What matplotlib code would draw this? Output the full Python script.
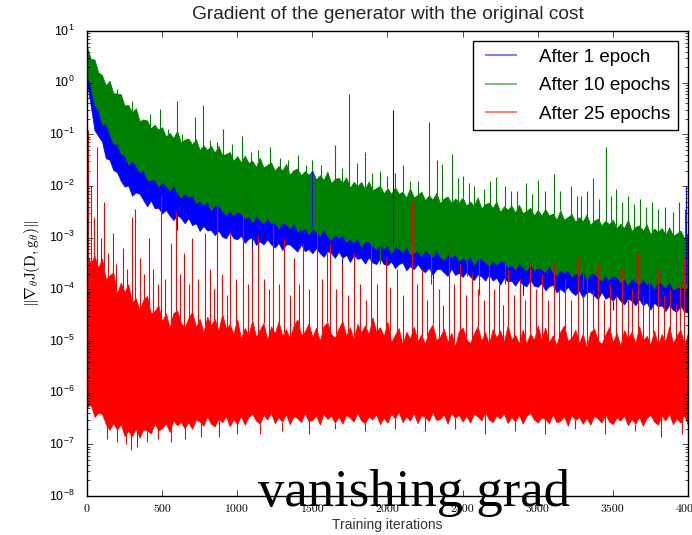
import matplotlib
matplotlib.use("Agg")
import matplotlib.pyplot as plt
import numpy as np
from matplotlib.lines import Line2D

# iteration grid for the band envelopes (every 25 iterations, 0..4000)
ITERS = list(range(0, 4001, 25))

# all values are log10 of the gradient norm
blue_hi = [0.25, -0.05, -0.3, -0.48, -0.65, -0.78, -0.9, -1.04, -1.17, -1.26, -1.34,
           -1.42, -1.48, -1.55, -1.62, -1.68, -1.74, -1.78, -1.82, -1.86, -1.9,
           -1.93, -1.96, -1.9, -2.02, -2.06, -2.09, -2.12, -2.16, -2.19, -2.22,
           -2.25, -2.28, -2.3, -2.32, -2.35, -2.38, -2.41, -2.44, -2.46, -2.47,
           -2.49, -2.5, -2.52, -2.54, -2.55, -2.57, -2.59, -2.6, -2.62, -2.64,
           -2.65, -2.67, -2.68, -2.7, -2.65, -2.73, -2.75, -2.77, -2.78, -2.8,
           -2.81, -2.83, -2.75, -2.86, -2.88, -2.89, -2.91, -2.93, -2.94, -2.96,
           -2.98, -2.99, -3.01, -3.02, -3.04, -3.06, -3.07, -3.09, -3.1, -3.12,
           -3.13, -3.14, -3.15, -3.16, -3.1, -3.18, -3.19, -3.2, -3.21, -3.22,
           -3.23, -3.24, -3.18, -3.26, -3.27, -3.28, -3.29, -3.3, -3.31, -3.32,
           -3.33, -3.34, -3.35, -3.36, -3.37, -3.38, -3.39, -3.4, -3.41, -3.42,
           -3.43, -3.44, -3.45, -3.46, -3.47, -3.48, -3.49, -3.5, -3.51, -3.52,
           -3.53, -3.54, -3.48, -3.56, -3.57, -3.58, -3.59, -3.6, -3.61, -3.62,
           -3.63, -3.64, -3.65, -3.65, -3.66, -3.67, -3.68, -3.69, -3.7, -3.71,
           -3.72, -3.73, -3.74, -3.75, -3.75, -3.76, -3.77, -3.78, -3.79, -3.8,
           -3.81, -3.82, -3.83, -3.84, -3.85, -3.85, -3.86, -3.87, -3.88, -3.9]
blue_lo = [0.0, -0.45, -0.92, -1.03, -1.14, -1.46, -1.49, -1.69, -1.73, -1.9, -2.01,
           -1.99, -2.19, -2.12, -2.15, -2.27, -2.39, -2.28, -2.43, -2.42, -2.53,
           -2.46, -2.57, -2.66, -2.56, -2.62, -2.72, -2.62, -2.76, -2.72, -2.87,
           -2.77, -2.86, -2.85, -2.95, -2.86, -2.98, -3.01, -2.89, -3.01, -3.03,
           -2.96, -3.1, -3.02, -2.99, -3.14, -3.07, -3.13, -3.03, -3.13, -3.19,
           -3.1, -3.24, -3.13, -3.13, -3.2, -3.27, -3.13, -3.26, -3.22, -3.3,
           -3.2, -3.3, -3.37, -3.26, -3.3, -3.39, -3.27, -3.39, -3.33, -3.47,
           -3.34, -3.41, -3.39, -3.5, -3.38, -3.48, -3.51, -3.4, -3.51, -3.53,
           -3.46, -3.59, -3.51, -3.48, -3.63, -3.55, -3.61, -3.51, -3.61, -3.67,
           -3.58, -3.72, -3.61, -3.6, -3.67, -3.74, -3.6, -3.72, -3.68, -3.76,
           -3.66, -3.75, -3.82, -3.71, -3.75, -3.83, -3.71, -3.83, -3.77, -3.91,
           -3.78, -3.85, -3.83, -3.93, -3.81, -3.91, -3.94, -3.82, -3.93, -3.95,
           -3.88, -4.02, -3.94, -3.91, -4.06, -3.99, -4.05, -3.95, -4.05, -4.11,
           -4.02, -4.16, -4.05, -4.05, -4.12, -4.19, -4.05, -4.18, -4.14, -4.22,
           -4.12, -4.22, -4.29, -4.18, -4.22, -4.31, -4.19, -4.31, -4.25, -4.39,
           -4.26, -4.33, -4.31, -4.42, -4.3, -4.4, -4.43, -4.32, -4.43, -4.45]
blue_spike_it = [1500, 2040, 3985]
blue_spike_top = [-1.64, -0.53, -2.0]
blue_dip_it = [600, 1100, 1700, 2300, 2900, 3500, 3950]
blue_dip_bot = [-2.85, -3.25, -3.6, -3.8, -4.1, -4.4, -4.6]

green_hi = [0.7, 0.46, 0.45, 0.2, 0.15, -0.05, 0.04, -0.2, -0.21, -0.22, -0.44,
            -0.43, -0.58, -0.49, -0.74, -0.71, -0.73, -0.88, -0.81, -0.91, -0.86,
            -1.04, -0.97, -1.07, -0.93, -1.16, -1.1, -1.08, -1.19, -1.09, -1.3,
            -1.21, -1.3, -1.22, -1.35, -1.22, -1.4, -1.38, -1.34, -1.51, -1.42,
            -1.54, -1.41, -1.55, -1.51, -1.63, -1.45, -1.64, -1.59, -1.54, -1.7,
            -1.61, -1.7, -1.57, -1.78, -1.69, -1.66, -1.79, -1.71, -1.78, -1.7,
            -1.87, -1.79, -1.88, -1.72, -1.94, -1.86, -1.84, -1.94, -1.83, -2.03,
            -1.92, -2.0, -1.92, -2.06, -1.91, -2.08, -2.04, -1.99, -2.14, -2.04,
            -2.15, -2.02, -2.15, -2.11, -2.22, -2.04, -2.22, -2.17, -2.11, -2.27,
            -2.18, -2.26, -2.13, -2.33, -2.24, -2.2, -2.33, -2.24, -2.31, -2.22,
            -2.38, -2.3, -2.38, -2.22, -2.43, -2.35, -2.32, -2.42, -2.3, -2.5,
            -2.39, -2.46, -2.38, -2.51, -2.36, -2.52, -2.48, -2.42, -2.57, -2.46,
            -2.57, -2.44, -2.57, -2.53, -2.65, -2.47, -2.65, -2.6, -2.54, -2.69,
            -2.6, -2.68, -2.55, -2.75, -2.67, -2.63, -2.76, -2.67, -2.74, -2.65,
            -2.81, -2.73, -2.81, -2.65, -2.87, -2.79, -2.76, -2.86, -2.74, -2.93,
            -2.82, -2.89, -2.81, -2.94, -2.8, -2.96, -2.92, -2.86, -3.01, -2.9]
green_lo = [0.15, -0.08, -0.43, -0.53, -0.8, -0.8, -0.99, -1.18, -1.18, -1.37, -1.41,
            -1.59, -1.51, -1.61, -1.74, -1.68, -1.88, -1.88, -1.87, -2.01, -1.92,
            -2.0, -2.09, -1.98, -2.13, -2.22, -2.13, -2.21, -2.18, -2.33, -2.28,
            -2.37, -2.29, -2.47, -2.37, -2.38, -2.48, -2.56, -2.48, -2.57, -2.49,
            -2.53, -2.63, -2.58, -2.7, -2.57, -2.66, -2.72, -2.61, -2.73, -2.7,
            -2.82, -2.7, -2.74, -2.82, -2.71, -2.87, -2.85, -2.81, -2.93, -2.82,
            -2.88, -2.96, -2.83, -2.97, -3.04, -2.93, -3.0, -2.95, -3.08, -3.02,
            -3.09, -3.0, -3.18, -3.07, -3.07, -3.16, -3.22, -3.13, -3.21, -3.14,
            -3.3, -3.17, -3.21, -3.28, -3.17, -3.32, -3.29, -3.25, -3.36, -3.24,
            -3.3, -3.37, -3.24, -3.37, -3.43, -3.32, -3.38, -3.32, -3.45, -3.38,
            -3.45, -3.35, -3.52, -3.41, -3.4, -3.48, -3.54, -3.44, -3.52, -3.44,
            -3.47, -3.57, -3.51, -3.62, -3.49, -3.57, -3.63, -3.51, -3.62, -3.59,
            -3.6, -3.67, -3.54, -3.67, -3.73, -3.62, -3.68, -3.62, -3.75, -3.68,
            -3.74, -3.64, -3.81, -3.7, -3.69, -3.77, -3.83, -3.73, -3.81, -3.73,
            -3.76, -3.86, -3.8, -3.91, -3.78, -3.85, -3.91, -3.79, -3.9, -3.87,
            -3.98, -3.85, -3.89, -3.96, -3.85, -4.0, -3.97, -3.93, -4.04, -3.92]
green_spike_it = [200, 300, 420, 487, 540, 600, 633, 720, 773, 820, 867, 907, 967,
                  1033, 1090, 1140, 1220, 1287, 1340, 1407, 1460, 1500, 1560, 1653,
                  1700, 1747, 1800, 1853, 1900, 1953, 2000, 2050, 2100, 2150, 2200,
                  2273, 2330, 2360, 2427, 2470, 2500, 2540, 2573, 2640, 2680, 2720,
                  2780, 2820, 2860, 2920, 2960, 3000, 3050, 3107, 3150, 3220, 3260,
                  3290, 3330, 3367, 3410, 3453, 3490, 3520, 3560, 3600, 3640, 3680,
                  3720, 3760, 3800, 3850, 3900, 3940, 3980]
green_spike_top = [-0.12, -0.35, -0.6, -0.51, -0.9, -0.36, -1.0, -0.67, -0.43, -1.1,
                   -1.15, -0.9, -1.19, -1.03, -1.35, -1.3, -1.25, -1.45, -1.5, -1.4,
                   -1.6, -1.5, -1.6, -1.2, -1.65, -0.22, -1.55, -1.34, -1.75, -1.7,
                   -1.8, -1.75, -1.6, -1.9, -1.9, -0.76, -1.5, -1.58, -1.38, -1.85,
                   -1.8, -1.95, -2.0, -2.05, -1.9, -1.83, -2.0, -2.1, -2.1, -1.95,
                   -2.15, -1.89, -2.1, -1.77, -2.1, -2.0, -2.2, -2.2, -2.1, -1.85,
                   -2.25, -1.25, -2.2, -2.05, -2.3, -2.2, -2.35, -2.25, -2.4, -2.3,
                   -2.45, -2.4, -2.5, -2.3, -2.45]
green_dip_it = [1950, 2287, 2530, 2607, 2780, 3300]
green_dip_bot = [-3.5, -3.9, -3.75, -4.1, -3.9, -4.0]

red_hi = [-3.3, -3.5, -3.35, -3.58, -3.4, -3.8, -3.73, -3.67, -4.08, -3.87, -4.05,
          -3.9, -4.25, -4.17, -4.41, -4.2, -4.13, -4.46, -4.42, -4.31, -4.62,
          -4.46, -4.74, -4.46, -4.41, -4.64, -4.74, -4.56, -4.43, -4.73, -4.57,
          -4.83, -4.53, -4.69, -4.57, -4.8, -4.47, -4.76, -4.68, -4.85, -4.58,
          -4.95, -4.75, -4.88, -4.6, -4.92, -4.78, -4.65, -4.98, -4.72, -4.85,
          -4.62, -4.9, -4.77, -4.96, -4.7, -4.58, -4.88, -4.82, -4.66, -4.92,
          -4.74, -5.0, -4.71, -4.64, -4.86, -4.94, -4.76, -4.61, -4.9, -4.73,
          -4.97, -4.67, -4.83, -4.7, -4.87, -4.54, -4.82, -4.73, -4.9, -4.63,
          -5.02, -4.88, -4.75, -5.08, -4.82, -4.95, -4.72, -5.0, -4.87, -5.06,
          -4.8, -4.68, -4.98, -4.92, -4.76, -5.02, -4.84, -5.1, -4.81, -4.74,
          -4.96, -5.04, -4.86, -4.71, -5.0, -4.83, -5.07, -4.77, -4.93, -4.8,
          -5.02, -4.69, -4.97, -4.88, -5.05, -4.78, -5.05, -4.85, -4.98, -4.7,
          -4.97, -4.74, -5.02, -4.89, -5.08, -4.82, -4.7, -5.0, -4.94, -4.78,
          -5.04, -4.86, -5.12, -4.83, -4.76, -4.98, -5.06, -4.88, -4.73, -5.02,
          -4.85, -5.09, -4.79, -4.95, -4.82, -5.04, -4.71, -4.99, -4.9, -5.07,
          -4.8, -5.07, -4.87, -5.0, -4.72, -5.04, -4.9, -4.77, -5.1, -4.84]
red_lo = [-6.28, -6.23, -6.47, -6.39, -6.41, -6.6, -6.72, -6.59, -6.72, -6.61, -6.84,
          -6.74, -6.84, -6.69, -6.87, -6.71, -6.73, -6.79, -6.6, -6.73, -6.69,
          -6.59, -6.76, -6.54, -6.63, -6.57, -6.69, -6.57, -6.7, -6.52, -6.56,
          -6.64, -6.46, -6.6, -6.65, -6.51, -6.57, -6.46, -6.65, -6.52, -6.61,
          -6.45, -6.62, -6.47, -6.41, -6.54, -6.6, -6.43, -6.52, -6.39, -6.59,
          -6.48, -6.56, -6.42, -6.61, -6.46, -6.49, -6.57, -6.4, -6.55, -6.53,
          -6.44, -6.62, -6.41, -6.51, -6.45, -6.58, -6.47, -6.6, -6.43, -6.48,
          -6.56, -6.39, -6.54, -6.59, -6.46, -6.52, -6.42, -6.61, -6.49, -6.58,
          -6.41, -6.5, -6.37, -6.57, -6.46, -6.54, -6.4, -6.59, -6.44, -6.47,
          -6.55, -6.38, -6.53, -6.51, -6.42, -6.6, -6.39, -6.49, -6.43, -6.56,
          -6.45, -6.58, -6.41, -6.46, -6.54, -6.37, -6.52, -6.57, -6.44, -6.5,
          -6.4, -6.59, -6.47, -6.56, -6.43, -6.6, -6.45, -6.39, -6.52, -6.58,
          -6.48, -6.51, -6.59, -6.42, -6.57, -6.55, -6.46, -6.64, -6.43, -6.53,
          -6.47, -6.6, -6.49, -6.62, -6.45, -6.5, -6.58, -6.41, -6.56, -6.61,
          -6.48, -6.54, -6.44, -6.63, -6.51, -6.6, -6.47, -6.64, -6.49, -6.43,
          -6.56, -6.62, -6.45, -6.54, -6.41, -6.61, -6.5, -6.58, -6.44, -6.63]
red_spike_it = [10, 30, 45, 67, 90, 113, 140, 170, 195, 240, 265, 300, 320, 350,
                380, 413, 440, 470, 493, 520, 560, 593, 620, 647, 680, 700, 740,
                787, 820, 845, 867, 900, 930, 953, 990, 1040, 1070, 1100, 1140,
                1175, 1210, 1240, 1280, 1313, 1350, 1380, 1410, 1440, 1480, 1533,
                1565, 1600, 1620, 1660, 1700, 1740, 1780, 1820, 1855, 1887, 1930,
                1987, 2020, 2060, 2100, 2160, 2195, 2230, 2265, 2300, 2340, 2370,
                2407, 2440, 2480, 2520, 2560, 2600, 2640, 2673, 2710, 2740, 2770,
                2800, 2840, 2880, 2915, 2950, 2990, 3030, 3070, 3107, 3140, 3180,
                3220, 3267, 3300, 3330, 3370, 3400, 3440, 3480, 3520, 3560, 3600,
                3630, 3667, 3700, 3740, 3770, 3800, 3840, 3880, 3920, 3950, 3973]
red_spike_top = [-0.92, -2.0, -2.6, -1.25, -3.0, -2.3, -3.3, -2.9, -3.5, -3.2, -3.6,
                 -2.6, -2.45, -3.4, -3.7, -3.0, -3.6, -3.9, -2.2, -3.8, -3.1, -2.5,
                 -3.7, -3.3, -3.9, -3.0, -3.8, -2.9, -3.6, -4.0, -2.28, -3.7, -4.1,
                 -2.9, -3.8, -2.2, -3.9, -3.2, -2.95, -3.8, -4.0, -2.75, -3.9, -3.0,
                 -4.1, -3.4, -3.9, -3.1, -4.0, -2.45, -3.8, -3.3, -3.1, -4.0, -3.5,
                 -4.1, -3.3, -3.9, -4.2, -3.1, -3.9, -3.4, -3.95, -3.6, -4.1, -2.28,
                 -3.9, -3.6, -4.2, -3.8, -4.0, -4.3, -3.0, -3.9, -3.5, -4.1, -3.7,
                 -4.0, -4.2, -3.4, -4.0, -3.9, -4.3, -3.6, -4.1, -3.8, -4.2, -3.5,
                 -4.0, -3.7, -4.2, -3.5, -4.0, -3.8, -4.2, -3.4, -4.1, -3.7, -4.0,
                 -3.5, -4.2, -3.9, -4.1, -3.6, -4.2, -4.0, -3.3, -4.1, -3.8, -4.3,
                 -3.6, -4.1, -4.0, -4.3, -3.9, -3.4]
red_dip_it = [130, 200, 260, 290, 330, 400, 470, 560, 650, 760, 880, 1000, 1150,
              1300, 1480, 1650, 1850, 2050, 2250, 2450, 2650, 2850, 3050, 3250,
              3450, 3650, 3820, 3960]
red_dip_bot = [-6.9, -6.95, -7.0, -7.1, -7.05, -6.95, -6.9, -6.95, -6.9, -6.85,
               -6.85, -6.8, -6.8, -6.75, -6.8, -6.7, -6.75, -6.7, -6.75, -6.7,
               -6.8, -6.75, -6.8, -6.7, -6.8, -6.75, -6.85, -6.8]

labels = ["After 1 epoch", "After 10 epochs", "After 25 epochs"]
colors = ["b", "g", "r"]


def draw_series(ax, hi, lo, spike_it, spike_top, dip_it, dip_bot, color):
    hi = np.array(hi)
    lo = np.array(lo)
    ax.fill_between(ITERS, 10.0 ** lo, 10.0 ** hi, facecolor=color,
                    edgecolor=color, lw=0.5)
    base = np.interp(spike_it, ITERS, hi)
    ax.vlines(spike_it, 10.0 ** base, 10.0 ** np.array(spike_top), color=color, lw=0.8)
    base = np.interp(dip_it, ITERS, lo)
    ax.vlines(dip_it, 10.0 ** np.array(dip_bot), 10.0 ** base, color=color, lw=0.8)


plt.style.use("classic")
plt.rcParams["mathtext.fontset"] = "cm"
plt.rcParams["mathtext.default"] = "rm"
plt.rcParams["font.family"] = ["Liberation Sans", "DejaVu Sans"]

fig = plt.figure(figsize=(6.92, 5.35), dpi=100, facecolor="white")
ax = fig.add_axes([0.1257, 0.0729, 0.8685, 0.869])

draw_series(ax, blue_hi, blue_lo, blue_spike_it, blue_spike_top,
            blue_dip_it, blue_dip_bot, colors[0])
draw_series(ax, green_hi, green_lo, green_spike_it, green_spike_top,
            green_dip_it, green_dip_bot, colors[1])
draw_series(ax, red_hi, red_lo, red_spike_it, red_spike_top,
            red_dip_it, red_dip_bot, colors[2])

ax.set_yscale("log")
ax.set_xlim(0, 4000)
ax.set_ylim(1e-8, 1e1)
ax.set_xticks(range(0, 4001, 500))
ax.tick_params(axis="y", labelsize=9, pad=9)
ax.tick_params(axis="x", labelsize=8.5, labelfontfamily="cmr10", pad=6)

ax.set_title("Gradient of the generator with the original cost", fontsize=13.8,
             y=1.012, color="0.15")
ax.set_xlabel("Training iterations", fontsize=10, labelpad=3, color="0.2")
ax.set_ylabel(r"$\|\nabla_\theta J(D, g_\theta)\|$", fontsize=11, labelpad=5)

handles = [Line2D([], [], color=c, alpha=0.5, lw=1.5) for c in colors]
ax.legend(handles, labels, loc="upper right", fontsize=13.5, frameon=True,
          fancybox=False, borderaxespad=0.55, handlelength=2.2,
          handletextpad=0.9, labelspacing=0.6)

fig.text(258 / 692, 1 - 506 / 535, "vanishing grad", fontsize=38,
         family="Liberation Serif", color="black", va="baseline", ha="left")

fig.savefig("out.png", dpi=100, facecolor="white")
